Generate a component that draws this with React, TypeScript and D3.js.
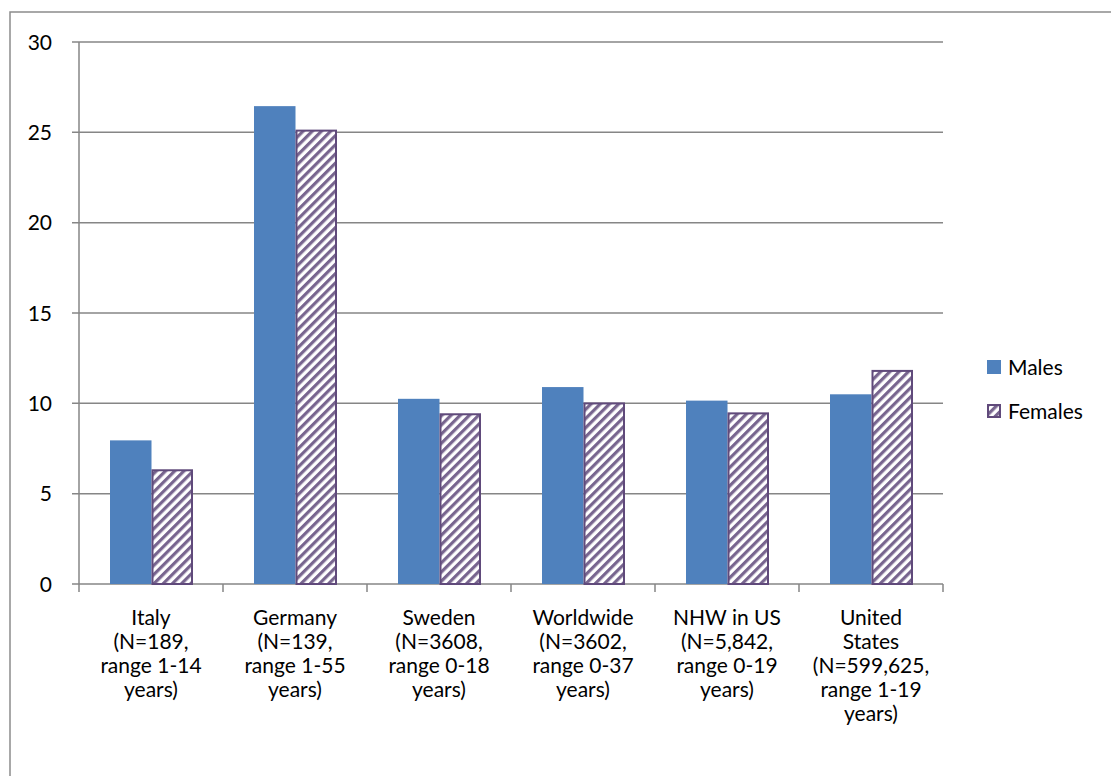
import React from "react";
import * as d3 from "d3";

const categories: string[][] = [
  ["Italy", "(N=189,", "range 1-14", "years)"],
  ["Germany", "(N=139,", "range 1-55", "years)"],
  ["Sweden", "(N=3608,", "range 0-18", "years)"],
  ["Worldwide", "(N=3602,", "range 0-37", "years)"],
  ["NHW in US", "(N=5,842,", "range 0-19", "years)"],
  ["United", "States", "(N=599,625,", "range 1-19", "years)"],
];
const males = [7.95, 26.45, 10.25, 10.9, 10.15, 10.5];
const females = [6.35, 25.15, 9.45, 10.05, 9.5, 11.85];
const yTicks = [0, 5, 10, 15, 20, 25, 30];
const seriesNames = ["Males", "Females"];

const W = 1111;
const H = 776;
const left = 79;
const right = 943;
const top = 42;
const bottom = 584;
const font = "Lato, 'Open Sans', sans-serif";
const fs = 21;
const blue = "#4f81bd";
const purple = "#604a7b";
const grid = "#868686";

export default function App() {
  const x0 = d3.scaleBand<number>().domain(d3.range(categories.length)).range([left, right]).paddingInner(0).paddingOuter(0);
  const y = d3.scaleLinear().domain([0, 30]).range([bottom, top]);
  const bw = x0.bandwidth();
  const inner = d3.scaleBand<number>().domain([0, 1]).range([31, bw - 30]).padding(0);
  const barW = inner.bandwidth();

  return (
    <svg width={W} height={H} style={{ position: "absolute", left: 0, top: 0 }}>
      <defs>
        <pattern id="hatch" patternUnits="userSpaceOnUse" width={6.5} height={6.5} patternTransform="rotate(45)">
          <rect width={6.5} height={6.5} fill="#ffffff" />
          <rect x={0} y={0} width={3.2} height={6.5} fill={purple} opacity={0.85} />
        </pattern>
      </defs>
      <rect x={0} y={0} width={W} height={H} fill="#fff" />
      <rect x={10} y={12} width={W + 10} height={H + 10} fill="none" stroke="#8c8c8c" strokeWidth={1.5} />
      {yTicks.map((t) => (
        <g key={t}>
          <line x1={left - 7} x2={right} y1={y(t)} y2={y(t)} stroke={grid} strokeWidth={1.5} />
          <text x={52} y={y(t) + 7.5} textAnchor="end" fontFamily={font} fontSize={fs} fill="#000">
            {t}
          </text>
        </g>
      ))}
      <line x1={left} x2={left} y1={top} y2={bottom} stroke={grid} strokeWidth={1.5} />
      {d3.range(categories.length + 1).map((i) => {
        const xx = i < categories.length ? (x0(i) as number) : right;
        return <line key={i} x1={xx} x2={xx} y1={bottom} y2={bottom + 8} stroke={grid} strokeWidth={1.5} />;
      })}
      {categories.map((c, i) => {
        const gx = x0(i) as number;
        return (
          <g key={i}>
            <rect x={gx + (inner(0) as number)} y={y(males[i])} width={barW} height={bottom - y(males[i])} fill={blue} />
            <rect
              x={gx + (inner(1) as number) + 1}
              y={y(females[i]) + 1}
              width={barW - 2}
              height={bottom - y(females[i]) - 1}
              fill="url(#hatch)"
              stroke={purple}
              strokeWidth={2}
            />
            <text x={gx + bw / 2} y={625} textAnchor="middle" fontFamily={font} fontSize={fs} fill="#000">
              {c.map((l, k) => (
                <tspan key={k} x={gx + bw / 2} dy={k === 0 ? 0 : 24}>
                  {l}
                </tspan>
              ))}
            </text>
          </g>
        );
      })}
      {seriesNames.map((s, k) => (
        <g key={s} transform={`translate(987, ${360 + k * 44})`}>
          {k === 0 ? (
            <rect x={0} y={0} width={14} height={14} fill={blue} />
          ) : (
            <rect x={1} y={1} width={12} height={12} fill="url(#hatch)" stroke={purple} strokeWidth={2} />
          )}
          <text x={21} y={15} fontFamily={font} fontSize={fs} fill="#000">
            {s}
          </text>
        </g>
      ))}
    </svg>
  );
}
